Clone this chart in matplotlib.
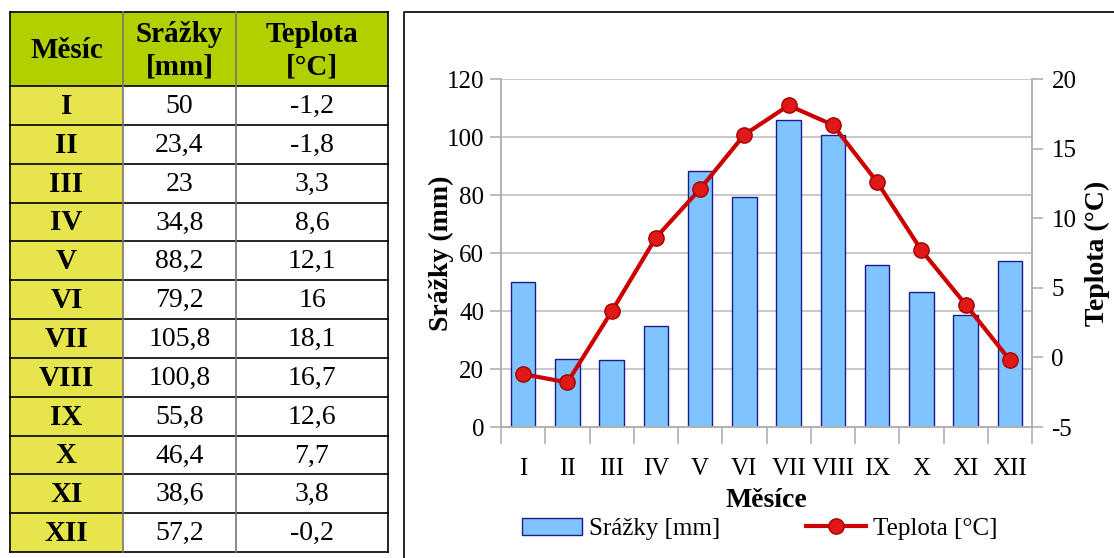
import numpy as np
import matplotlib
matplotlib.use("Agg")
import matplotlib.pyplot as plt
from matplotlib.patches import Rectangle, Patch
from matplotlib.lines import Line2D

months = ["I", "II", "III", "IV", "V", "VI", "VII", "VIII", "IX", "X", "XI", "XII"]
srazky = [50, 23.4, 23, 34.8, 88.2, 79.2, 105.8, 100.8, 55.8, 46.4, 38.6, 57.2]
teplota = [-1.2, -1.8, 3.3, 8.6, 12.1, 16, 18.1, 16.7, 12.6, 7.7, 3.8, -0.2]
headers = ["Měsíc", "Srážky\n[mm]", "Teplota\n[°C]"]

plt.rcParams['font.family'] = ['Liberation Serif', 'DejaVu Serif']
plt.rcParams['axes.unicode_minus'] = False

W, H = 1114, 558
fig = plt.figure(figsize=(W / 100, H / 100), dpi=100)

# overlay in pixel coordinates for the table and the chart frame
ov = fig.add_axes([0, 0, 1, 1], zorder=0)
ov.set_xlim(0, W)
ov.set_ylim(H, 0)
ov.axis("off")

def fmt(v):
    return f"{v:g}".replace(".", ",")

cols = [10, 123, 236, 388]
top, head_h = 12, 74
row_h = (552 - (top + head_h)) / len(months)

# header row
for j in range(3):
    ov.add_patch(Rectangle((cols[j], top), cols[j + 1] - cols[j], head_h,
                           facecolor="#b2d000", edgecolor="none"))
    ov.text((cols[j] + cols[j + 1]) / 2, top + head_h / 2 + 2, headers[j],
            ha="center", va="center", fontsize=21, fontweight="bold",
            linespacing=1.25)

# data rows
for i, m in enumerate(months):
    y0 = top + head_h + i * row_h
    ov.add_patch(Rectangle((cols[0], y0), cols[1] - cols[0], row_h,
                           facecolor="#e6e64c", edgecolor="none"))
    yc = y0 + row_h / 2 + 1
    ov.text((cols[0] + cols[1]) / 2, yc, m, ha="center", va="center",
            fontsize=21, fontweight="bold")
    ov.text((cols[1] + cols[2]) / 2, yc, fmt(srazky[i]), ha="center",
            va="center", fontsize=20)
    ov.text((cols[2] + cols[3]) / 2, yc, fmt(teplota[i]), ha="center",
            va="center", fontsize=20)

# grid lines of the table
for i in range(len(months) + 2):
    y = top if i == 0 else top + head_h + (i - 1) * row_h
    ov.plot([cols[0], cols[3]], [y, y], color="black", lw=1.2)
for j, x in enumerate(cols):
    ov.plot([x, x], [top, 552], color="black" if j in (0, 3) else "#777777",
            lw=1.2)

# frame around the chart
ov.plot([404, 404, W + 5], [H + 5, 12, 12], color="black", lw=1.2)

# chart
ax = fig.add_axes([501 / W, 1 - 427 / H, 531 / W, 348 / H], zorder=1)
x = np.arange(len(months))
ax.bar(x, srazky, width=0.55, color="#80c4ff", edgecolor="#1a1a8c",
       linewidth=1, zorder=2)
ax.set_xlim(-0.5, len(months) - 0.5)
ax.set_ylim(0, 120)
ax.set_yticks(np.arange(0, 121, 20))
ax.set_axisbelow(True)
ax.yaxis.grid(True, color="#c0c0c0", lw=1.2)
ax.set_xticks(x)
ax.set_xticklabels(months, fontsize=18)
ax.set_xticks(np.arange(-0.5, len(months), 1), minor=True)
ax.tick_params(axis="x", which="major", length=0, pad=22)
ax.tick_params(axis="x", which="minor", length=12, color="#b0b0b0", width=1.2)
ax.tick_params(axis="y", labelsize=18, length=8, color="#b0b0b0", width=1.2,
               pad=4)
for s in ("left", "bottom", "right"):
    ax.spines[s].set_color("#b0b0b0")
    ax.spines[s].set_linewidth(1.2)
ax.spines["top"].set_visible(False)
ax.set_ylabel("Srážky (mm)", fontsize=20, fontweight="bold", labelpad=-5)
ax.set_xlabel("Měsíce", fontsize=20, fontweight="bold", labelpad=6)

ax2 = ax.twinx()
ax2.plot(x, teplota, color="#cc0000", lw=3, marker="o", markersize=11,
         markerfacecolor="#e01818", markeredgecolor="#a00000",
         markeredgewidth=1, zorder=3)
ax2.set_ylim(-5, 20)
ax2.set_yticks(np.arange(-5, 21, 5))
ax2.tick_params(axis="y", labelsize=18, length=8, color="#b0b0b0", width=1.2,
                pad=6)
for s in ("left", "bottom", "right"):
    ax2.spines[s].set_color("#b0b0b0")
    ax2.spines[s].set_linewidth(1.2)
ax2.spines["top"].set_visible(False)
ax2.set_ylabel("Teplota (°C)", fontsize=20, fontweight="bold", labelpad=6)

handles = [Patch(facecolor="#80c4ff", edgecolor="#1a1a8c", label="Srážky [mm]"),
           Line2D([], [], color="#cc0000", lw=3, marker="o", markersize=11,
                  markerfacecolor="#e01818", markeredgecolor="#a00000",
                  label="Teplota [°C]")]
fig.legend(handles=handles, loc="center", bbox_to_anchor=(0.682, 0.052),
           ncol=2, frameon=False, fontsize=18, handlelength=2.4,
           columnspacing=3.4, handletextpad=0.3)

fig.savefig("out.png", dpi=100)
